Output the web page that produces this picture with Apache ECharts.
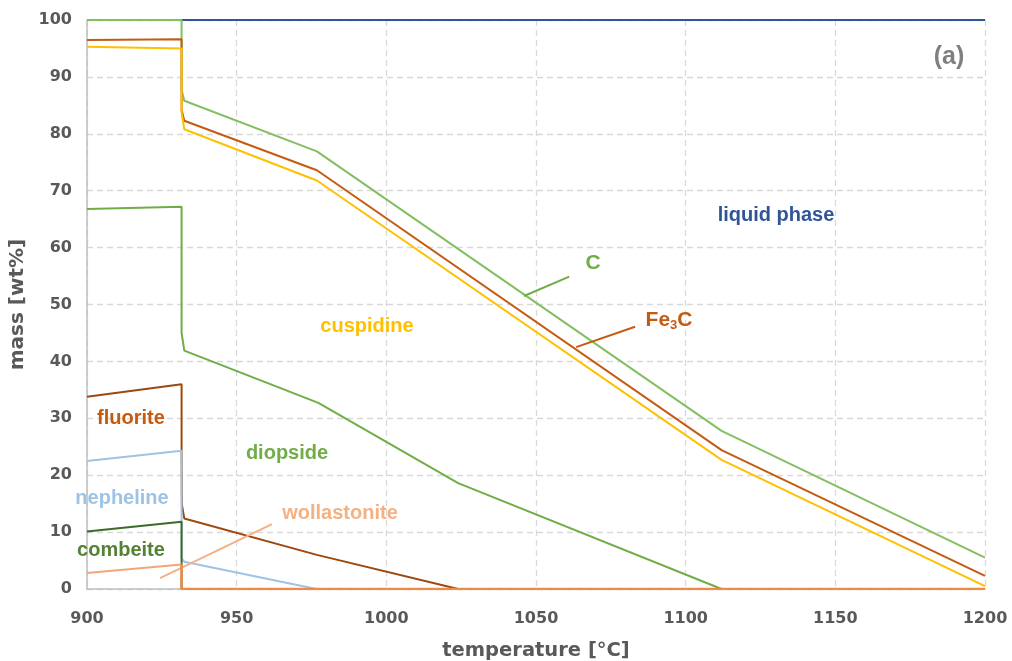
<!DOCTYPE html>
<html>
<head>
<meta charset="UTF-8">
<title>mass vs temperature</title>
<script src="https://cdn.jsdelivr.net/npm/echarts@6/dist/echarts.min.js"></script>
<style>
  html, body { margin: 0; padding: 0; background: #fff; }
  #chart { width: 1012px; height: 661px; }
</style>
</head>
<body>
<div id="chart"></div>
<script>
// cumulative phase boundaries (temperature in degC, mass in wt%)
var liquidT = [931.6, 1200];
var liquidM = [100, 100];

var cT = [900, 931.6, 931.6, 932.5, 976.8, 1112, 1200];
var cM = [100, 100, 87.7, 85.8, 76.9, 27.8, 5.5];

var fe3cT = [900, 931.6, 931.6, 932.5, 976.8, 1112, 1200];
var fe3cM = [96.5, 96.6, 84.2, 82.3, 73.6, 24.4, 2.3];

var cuspT = [900, 931.6, 931.6, 932.5, 976.8, 1112, 1200];
var cuspM = [95.3, 95.0, 83.7, 80.8, 71.8, 22.7, 0.5];

var diopT = [900, 931.6, 931.6, 932.5, 977.3, 1024, 1112];
var diopM = [66.8, 67.2, 45.0, 41.9, 32.7, 18.6, 0];

var fluorT = [900, 931.6, 931.6, 931.7, 932.5, 976.8, 1024];
var fluorM = [33.8, 36.0, 24.4, 14.8, 12.4, 6.0, 0];

var nephT = [900, 931.6, 931.6, 932.5, 976.7];
var nephM = [22.5, 24.3, 5.4, 4.8, 0];

var combT = [900, 931.6, 931.6];
var combM = [10.1, 11.8, 0];

var wollT = [900, 931.6];
var wollM = [2.8, 4.3];

var baseT = [931.6, 931.6, 1200];
var baseM = [4.3, 0, 0];

// leader lines for the text labels
var wollLeadT = [924.4, 961.8];
var wollLeadM = [1.9, 11.4];
var cLeadT = [1046.0, 1061.1];
var cLeadM = [51.5, 54.9];
var feLeadT = [1063.4, 1083.1];
var feLeadM = [42.5, 46.1];

var xTicks = [900, 950, 1000, 1050, 1100, 1150, 1200];
var yTicks = [0, 10, 20, 30, 40, 50, 60, 70, 80, 90, 100];

function pts(t, m) {
    var out = [];
    for (var i = 0; i < t.length; i++) out.push([t[i], m[i]]);
    return out;
}

function line(name, t, m, color, w, z) {
    return {
        name: name,
        type: 'line',
        data: pts(t, m),
        showSymbol: false,
        symbol: 'none',
        z: z || 2,
        lineStyle: { color: color, width: w || 2 },
        emphasis: { disabled: true }
    };
}

var FONT = '"Liberation Sans", Arial, sans-serif';
var AXFONT = '"DejaVu Sans", sans-serif';

function label(text, x, y, color, size) {
    return {
        type: 'text',
        x: x, y: y,
        z: 10,
        style: {
            text: text,
            fill: color,
            font: 'bold ' + (size || 20) + 'px ' + FONT,
            textAlign: 'center',
            textVerticalAlign: 'middle'
        }
    };
}

var myChart = echarts.init(document.getElementById('chart'));

var option = {
    animation: false,
    backgroundColor: '#fff',
    grid: { left: 87, right: 27, top: 20, bottom: 72, containLabel: false, outerBoundsMode: 'none' },
    xAxis: {
        type: 'value',
        min: xTicks[0], max: xTicks[xTicks.length - 1], interval: 50,
        name: 'temperature [°C]',
        nameLocation: 'middle',
        nameGap: 52,
        nameTextStyle: { color: '#595959', fontSize: 19.5, fontWeight: 'bold', fontFamily: AXFONT },
        axisLine: { show: true, lineStyle: { color: '#BFBFBF', width: 1.5 } },
        axisTick: { show: false },
        axisLabel: {
            color: '#595959', fontSize: 16, fontWeight: 'bold', fontFamily: AXFONT, margin: 22,
            formatter: function (v) { return String(v); }
        },
        splitLine: { show: true, lineStyle: { color: '#D9D9D9', type: [6, 4], width: 1.3 } }
    },
    yAxis: {
        type: 'value',
        min: yTicks[0], max: yTicks[yTicks.length - 1], interval: 10,
        name: 'mass [wt%]',
        nameLocation: 'middle',
        nameGap: 53,
        nameTextStyle: { color: '#595959', fontSize: 20, fontWeight: 'bold', fontFamily: AXFONT },
        axisLine: { show: true, lineStyle: { color: '#BFBFBF', width: 1.5 } },
        axisTick: { show: false },
        axisLabel: {
            color: '#595959', fontSize: 16, fontWeight: 'bold', fontFamily: AXFONT, margin: 15,
            formatter: function (v) { return String(v); }
        },
        splitLine: { show: true, lineStyle: { color: '#D9D9D9', type: [6, 4], width: 1.3 } }
    },
    series: [
        line('liquid phase', liquidT, liquidM, '#2F5597', 2),
        line('C', cT, cM, '#84BE63', 2),
        line('Fe3C', fe3cT, fe3cM, '#C55A11', 2),
        line('cuspidine', cuspT, cuspM, '#FFC000', 2),
        line('diopside', diopT, diopM, '#70AD47', 2),
        line('fluorite', fluorT, fluorM, '#9E480E', 2),
        line('nepheline', nephT, nephM, '#9DC3E6', 2),
        line('combeite', combT, combM, '#3E6B26', 2),
        line('wollastonite', wollT, wollM, '#F4A57A', 2),
        line('base', baseT, baseM, '#F08A48', 2.5, 3),
        line('wollastonite lead', wollLeadT, wollLeadM, '#F4B183', 2),
        line('C lead', cLeadT, cLeadM, '#70AD47', 2),
        line('Fe3C lead', feLeadT, feLeadM, '#C55A11', 2)
    ],
    graphic: [
        label('liquid phase', 776, 215, '#2F5597', 20),
        label('C', 593, 263, '#70AD47', 21),
        {
            type: 'text', x: 669, y: 320, z: 10,
            style: {
                text: '{a|Fe}{b|3}{a|C}',
                textAlign: 'center',
                textVerticalAlign: 'middle',
                rich: {
                    a: { fill: '#C55A11', font: 'bold 21px ' + FONT },
                    b: { fill: '#C55A11', font: 'bold 13px ' + FONT, padding: [11, 0, 0, 0] }
                }
            }
        },
        label('cuspidine', 367, 326, '#FFC000', 20),
        label('fluorite', 131, 418, '#C55A11', 20),
        label('diopside', 287, 453, '#70AD47', 20),
        label('nepheline', 122, 498, '#9DC3E6', 20),
        label('wollastonite', 340, 513, '#F4B183', 20),
        label('combeite', 121, 550, '#548235', 20),
        label('(a)', 949, 57, '#7F7F7F', 25)
    ]
};

myChart.setOption(option, true);
</script>
</body>
</html>
